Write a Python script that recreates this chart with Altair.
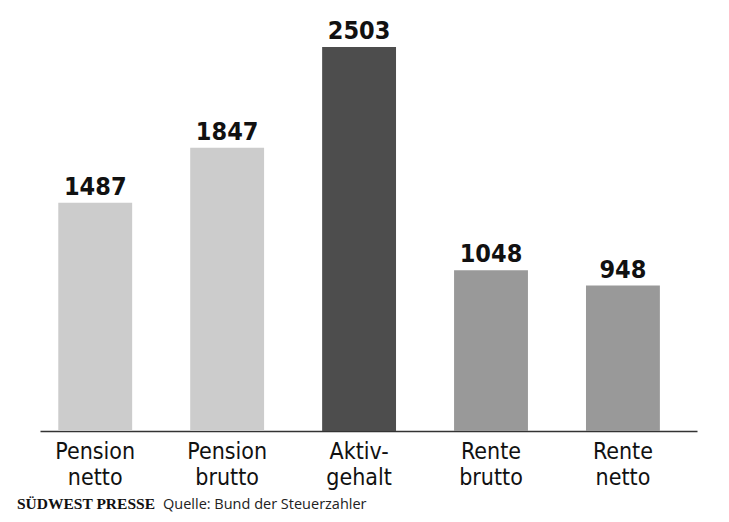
import altair as alt
import pandas as pd

categories = ["Pension netto", "Pension brutto", "Aktiv- gehalt", "Rente brutto", "Rente netto"]
values = [1487, 1847, 2503, 1048, 948]
colors = ["#cccccc", "#cccccc", "#4d4d4d", "#999999", "#999999"]

df = pd.DataFrame({"cat": categories, "val": values, "col": colors})

FONT = "DejaVu Sans Condensed"

x = alt.X("cat:N", sort=categories, title=None,
          scale=alt.Scale(paddingInner=0.44, paddingOuter=0.21, align=0.33),
          axis=alt.Axis(labelAngle=0, ticks=False, domainColor="#333333", domainWidth=1.5,
                        labelExpr="split(datum.label, ' ')", labelFont=FONT, labelFontSize=23,
                        labelColor="#111111", labelLineHeight=26, labelPadding=9,
                        labelBaseline="top"))
y = alt.Y("val:Q", scale=alt.Scale(domain=[0, 2503], nice=False, zero=True), axis=None)

bars = alt.Chart(df).mark_bar().encode(x=x, y=y, color=alt.Color("col:N", scale=None))
labels = alt.Chart(df).mark_text(baseline="bottom", dy=-3, font=FONT, fontSize=25,
                                 fontWeight="bold", color="#111111").encode(
    x=alt.X("cat:N", sort=categories), y="val:Q", text="val:Q")

foot = pd.DataFrame({"a": ["SÜDWEST PRESSE"], "b": ["Quelle: Bund der Steuerzahler"]})
f1 = alt.Chart(foot).mark_text(align="left", baseline="alphabetic", font="Liberation Serif",
                               fontSize=15.5, fontWeight="bold", color="#111111").encode(
    x=alt.value(-23), y=alt.value(462), text="a:N")
f2 = alt.Chart(foot).mark_text(align="left", baseline="alphabetic", font="Open Sans",
                               fontSize=14.5, color="#222222").encode(
    x=alt.value(123), y=alt.value(462), text="b:N")

chart = alt.layer(bars, labels, f1, f2).properties(
    width=657, height=384,
    autosize=alt.AutoSizeParams(type="none"),
    padding={"left": 32, "top": 39, "right": 24, "bottom": 83},
).configure_view(stroke=None)

chart.save("out.html", embed_options={"renderer": "svg", "actions": False})
